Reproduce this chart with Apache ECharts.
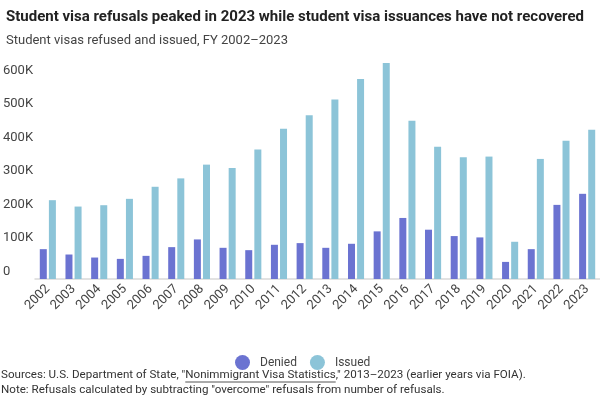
<!DOCTYPE html>
<html>
<head>
<meta charset="utf-8">
<script src="https://cdn.jsdelivr.net/npm/echarts@6/dist/echarts.min.js"></script>
<style>
  html, body { margin: 0; padding: 0; background: #fff; }
  #chart { width: 600px; height: 399px; }
</style>
</head>
<body>
<div id="chart"></div>
<script>
var years = ['2002', '2003', '2004', '2005', '2006', '2007', '2008', '2009', '2010', '2011', '2012',
             '2013', '2014', '2015', '2016', '2017', '2018', '2019', '2020', '2021', '2022', '2023'];
var denied = [89000, 73000, 64000, 60000, 69000, 95000, 118000, 93000, 86000, 102000, 107000,
              93000, 105000, 142000, 182000, 147000, 128000, 124000, 51000, 89000, 221000, 254000];
var issued = [235000, 216000, 220000, 239000, 275000, 300000, 341000, 331000, 386000, 448000, 488000,
              535000, 596000, 644000, 472000, 394000, 363000, 365000, 111000, 358000, 412000, 445000];

var FONT = 'Roboto, "Liberation Sans", sans-serif';
var NOTE_FONT = '11.6px ' + FONT;

// sources line; the report title is underlined like a link
var srcBefore = 'Sources: U.S. Department of State, "';
var srcLink = 'Nonimmigrant Visa Statistics';
var srcAfter = '," 2013\u20132023 (earlier years via FOIA).';

var ctx = document.createElement('canvas').getContext('2d');
ctx.font = NOTE_FONT;
var linkX = 1 + ctx.measureText(srcBefore).width;
var linkW = ctx.measureText(srcLink).width;

var chart = echarts.init(document.getElementById('chart'));

chart.setOption({
  animation: false,
  textStyle: { fontFamily: FONT },
  title: [{
    text: 'Student visa refusals peaked in 2023 while student visa issuances have not recovered',
    left: 1, top: 5,
    textStyle: { fontSize: 15, fontWeight: 'bold', color: '#222', fontFamily: FONT }
  }, {
    text: 'Student visas refused and issued, FY 2002\u20132023',
    left: 1, top: 29,
    textStyle: { fontSize: 13, fontWeight: 'normal', color: '#444', fontFamily: FONT }
  }],
  legend: {
    left: 230, top: 350,
    icon: 'circle',
    itemWidth: 15, itemHeight: 15, itemGap: 13,
    textStyle: { fontSize: 12, color: '#444', padding: [0, 0, 0, 5] },
    data: ['Denied', 'Issued']
  },
  grid: { left: 32, width: 572, top: 61, bottom: 120 },
  xAxis: {
    type: 'category',
    data: years,
    axisLine: { lineStyle: { color: '#d9d9d9', width: 1.5 } },
    axisTick: { show: false },
    axisLabel: { rotate: 45, fontSize: 13, color: '#444', margin: 8, interval: 0 }
  },
  yAxis: {
    type: 'value',
    min: 0, max: 650000, interval: 100000,
    splitLine: { show: false },
    axisLine: { show: false },
    axisTick: { show: false },
    axisLabel: {
      margin: 32, align: 'left', verticalAlign: 'bottom',
      fontSize: 13, color: '#444', padding: [0, 0, 1, 0],
      formatter: function (v) {
        if (v % 100000 !== 0) return '';
        return v === 0 ? '0' : (v / 1000) + 'K';
      }
    }
  },
  series: [{
    name: 'Denied', type: 'bar', data: denied,
    barWidth: 7, barGap: '30%',
    itemStyle: { color: '#6b73d1' }
  }, {
    name: 'Issued', type: 'bar', data: issued,
    barWidth: 7,
    itemStyle: { color: '#8cc4d8' }
  }],
  graphic: [{
    type: 'text', left: 1, top: 369,
    style: { text: srcBefore + srcLink + srcAfter, font: NOTE_FONT, fill: '#333' }
  }, {
    type: 'line', silent: true,
    shape: { x1: linkX, y1: 382, x2: linkX + linkW, y2: 382 },
    style: { stroke: '#555', lineWidth: 1 }
  }, {
    type: 'text', left: 1, top: 384,
    style: {
      text: 'Note: Refusals calculated by subtracting "overcome" refusals from number of refusals.',
      font: NOTE_FONT, fill: '#333'
    }
  }]
});
</script>
</body>
</html>
